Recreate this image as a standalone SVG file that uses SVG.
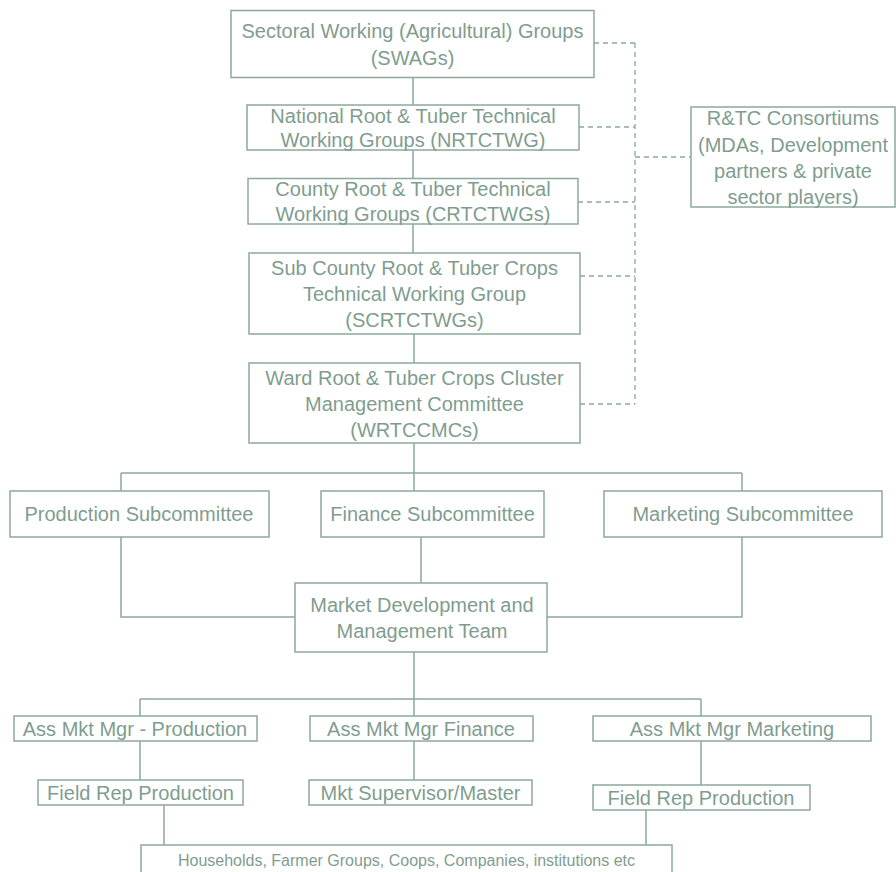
<svg xmlns="http://www.w3.org/2000/svg" width="896" height="872" viewBox="0 0 896 872">
<style>
.box{fill:#ffffff;stroke:#8ca89b;stroke-width:1.5}
.ln{fill:none;stroke:#8ca89b;stroke-width:1.5}
.dash{fill:none;stroke:#8ca89b;stroke-width:1.3;stroke-dasharray:5 4}
text{font-family:"Liberation Sans",Arial,sans-serif;font-size:20px;fill:#7f9d8f;text-anchor:middle}
.sm{font-size:16px}
</style>
<rect width="896" height="872" fill="#ffffff"/>
<g id="connectors">
<path class="ln" d="M413 77V105M413 150V178M413 224V253M414 334V363M414 443V473M121 473H742M121 473V491M414 473V491M742 473V491"/>
<path class="ln" d="M121 537V617H295M742 537V617H547M421 537V583"/>
<path class="ln" d="M414 652V699M140 699H701M140 699V716M414 699V716M701 699V716"/>
<path class="ln" d="M140 741V780M414 741V780M701 741V785M164 805V845M646 810V845"/>
<path class="dash" d="M594 43H635M579 127H635M578 202H635M580 276H635M580 404H635M635 43V404M635 157H691"/>
</g>
<g id="swags"><rect class="box" x="231" y="10.5" width="363" height="67"/><text x="412.5" y="38">Sectoral Working (Agricultural)  Groups</text><text x="412.5" y="65">(SWAGs)</text></g>
<g id="nrtctwg"><rect class="box" x="247" y="105" width="332" height="45"/><text x="413" y="123">National Root &amp; Tuber Technical</text><text x="413" y="147">Working Groups (NRTCTWG)</text></g>
<g id="crtctwgs"><rect class="box" x="248" y="178.5" width="330" height="45.5"/><text x="413" y="196">County Root &amp; Tuber Technical</text><text x="413" y="221">Working Groups (CRTCTWGs)</text></g>
<g id="scrtctwgs"><rect class="box" x="249" y="253" width="331" height="81"/><text x="414.5" y="275">Sub County Root &amp; Tuber Crops</text><text x="414.5" y="301">Technical Working Group</text><text x="414.5" y="327">(SCRTCTWGs)</text></g>
<g id="wrtccmcs"><rect class="box" x="249" y="363" width="331" height="80"/><text x="414.5" y="385">Ward Root &amp; Tuber Crops Cluster</text><text x="414.5" y="411">Management Committee</text><text x="414.5" y="437">(WRTCCMCs)</text></g>
<g id="consortiums"><rect class="box" x="691" y="107" width="204" height="100"/><text x="793" y="125">R&amp;TC Consortiums</text><text x="793" y="152">(MDAs, Development</text><text x="793" y="178">partners &amp; private</text><text x="793" y="204">sector players)</text></g>
<g id="production-sub"><rect class="box" x="10" y="491" width="259" height="46"/><text x="139" y="521">Production Subcommittee</text></g>
<g id="finance-sub"><rect class="box" x="321" y="491" width="223" height="46"/><text x="432.5" y="521">Finance Subcommittee</text></g>
<g id="marketing-sub"><rect class="box" x="604" y="491" width="278" height="46"/><text x="743" y="521">Marketing Subcommittee</text></g>
<g id="market-dev"><rect class="box" x="295" y="583" width="252" height="69"/><text x="422" y="612">Market Development and</text><text x="422" y="638">Management Team</text></g>
<g id="amm-production"><rect class="box" x="14" y="716" width="243" height="25"/><text x="135" y="736">Ass Mkt Mgr - Production</text></g>
<g id="amm-finance"><rect class="box" x="310" y="716" width="223" height="25"/><text x="421" y="736">Ass Mkt Mgr Finance</text></g>
<g id="amm-marketing"><rect class="box" x="593" y="716" width="278" height="25"/><text x="732" y="736">Ass Mkt Mgr Marketing</text></g>
<g id="field-rep-left"><rect class="box" x="38" y="780" width="205" height="25"/><text x="140.5" y="800">Field Rep Production</text></g>
<g id="mkt-supervisor"><rect class="box" x="309" y="780" width="223" height="25"/><text x="420.5" y="800">Mkt Supervisor/Master</text></g>
<g id="field-rep-right"><rect class="box" x="593" y="785" width="217" height="25"/><text x="701" y="805">Field Rep Production</text></g>
<g id="households"><rect class="box" x="141" y="845" width="531" height="35"/><text class="sm" x="406.5" y="866">Households, Farmer Groups, Coops, Companies, institutions etc</text></g>
</svg>
